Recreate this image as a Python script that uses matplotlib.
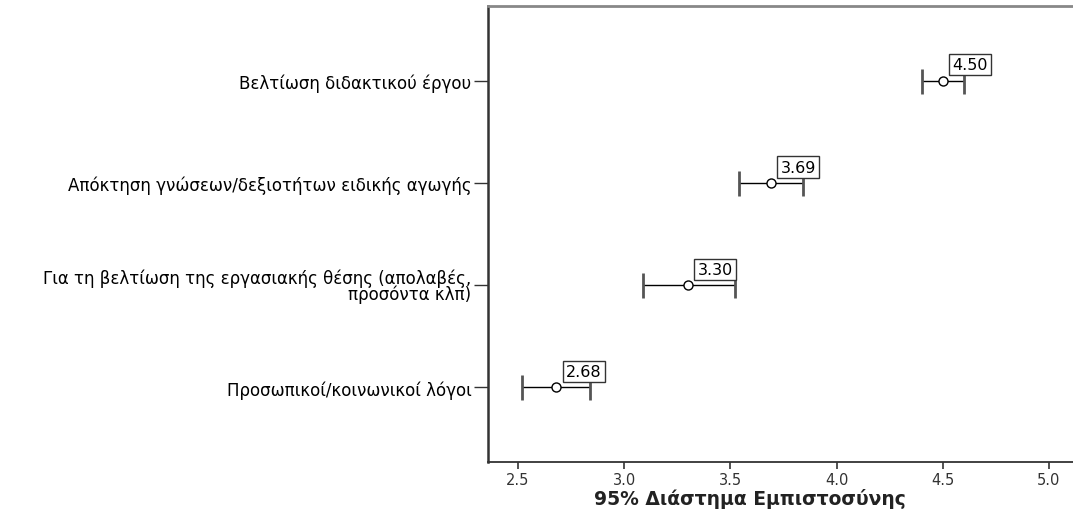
import numpy as np
import matplotlib
matplotlib.use('Agg')
import matplotlib.pyplot as plt

categories = ['Βελτίωση διδακτικού έργου',
              'Απόκτηση γνώσεων/δεξιοτήτων ειδικής αγωγής',
              'Για τη βελτίωση της εργασιακής θέσης (απολαβές,\nπροσόντα κλπ)',
              'Προσωπικοί/κοινωνικοί λόγοι']
means = np.array([4.50, 3.69, 3.30, 2.68])
lower = np.array([4.40, 3.54, 3.09, 2.52])
upper = np.array([4.60, 3.84, 3.52, 2.84])
xticks = [2.5, 3.0, 3.5, 4.0, 4.5, 5.0]

fig = plt.figure(figsize=(10.73, 5.10), dpi=100)
ax = fig.add_axes([488/1073, 1-463/510, 1-488/1073, 456/510])

y = np.arange(len(categories))

# horizontal CI lines
ax.hlines(y, lower, upper, color='black', lw=1, zorder=2)
# caps
ax.plot(lower, y, ls='none', marker='|', ms=18, mew=2, color='#555555', zorder=3)
ax.plot(upper, y, ls='none', marker='|', ms=18, mew=2, color='#555555', zorder=3)
# means
ax.plot(means, y, ls='none', marker='o', ms=6.5, mfc='white', mec='black', mew=1, zorder=4)

for m, yi in zip(means, y):
    ax.annotate(f'{m:.2f}', (m, yi), xytext=(7, 6), textcoords='offset points',
                ha='left', va='bottom', fontsize=11.5, zorder=5,
                bbox=dict(boxstyle='square,pad=0.2', fc='white', ec='#333333', lw=1))

ax.set_xlim(2.359, 5.113)
ax.set_ylim(3.73, -0.73)
ax.set_yticks(y)
ax.set_yticklabels(categories, fontsize=12, ha='right', linespacing=0.85)
ax.set_xticks(xticks)
ax.set_xticklabels([f'{t:.1f}' for t in xticks], fontsize=10.5, color='#333333')
ax.tick_params(axis='y', length=10, width=1, color='#333333', pad=2)
ax.tick_params(axis='x', length=5, width=1.2, color='#333333', pad=2)

ax.spines['right'].set_visible(False)
ax.spines['top'].set_color('#888888')
ax.spines['top'].set_linewidth(2)
ax.spines['left'].set_color('#333333')
ax.spines['left'].set_linewidth(1.8)
ax.spines['bottom'].set_color('#333333')
ax.spines['bottom'].set_linewidth(1.3)

ax.set_xlabel('95% Διάστημα Εμπιστοσύνης', fontsize=13.5, fontweight='bold', color='#222222')
ax.xaxis.set_label_coords((750-488)/585, -0.058)

fig.savefig('out.png', dpi=100)
